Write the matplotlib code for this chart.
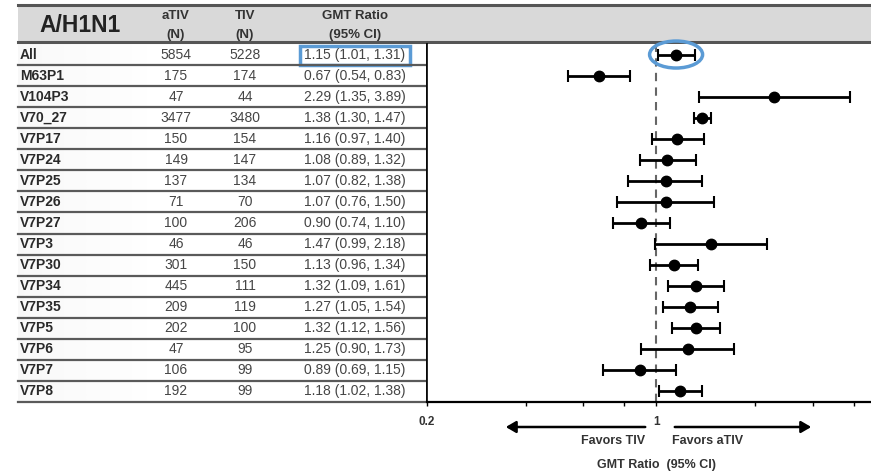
import numpy as np
import matplotlib
matplotlib.use('Agg')
import matplotlib.pyplot as plt
from matplotlib.patches import Rectangle, Ellipse
from matplotlib.ticker import NullLocator
from matplotlib.transforms import ScaledTranslation

plt.rcParams['font.family'] = ['Liberation Sans', 'DejaVu Sans']

# data
groups = ['All', 'M63P1', 'V104P3', 'V70_27', 'V7P17', 'V7P24', 'V7P25', 'V7P26', 'V7P27',
          'V7P3', 'V7P30', 'V7P34', 'V7P35', 'V7P5', 'V7P6', 'V7P7', 'V7P8']
ativ_n = [5854, 175, 47, 3477, 150, 149, 137, 71, 100, 46, 301, 445, 209, 202, 47, 106, 192]
tiv_n = [5228, 174, 44, 3480, 154, 147, 134, 70, 206, 46, 150, 111, 119, 100, 95, 99, 99]
gmt = [1.15, 0.67, 2.29, 1.38, 1.16, 1.08, 1.07, 1.07, 0.90, 1.47, 1.13, 1.32, 1.27, 1.32, 1.25, 0.89, 1.18]
ci_lo = [1.01, 0.54, 1.35, 1.30, 0.97, 0.89, 0.82, 0.76, 0.74, 0.99, 0.96, 1.09, 1.05, 1.12, 0.90, 0.69, 1.02]
ci_hi = [1.31, 0.83, 3.89, 1.47, 1.40, 1.32, 1.38, 1.50, 1.10, 2.18, 1.34, 1.61, 1.54, 1.56, 1.73, 1.15, 1.38]
xticks = [0.2, 0.4, 0.6, 0.8, 1, 2, 3, 4]
xtick_labels = ['0.2', '', '', '', '1', '', '', '']

W, H = 871, 473
fig = plt.figure(figsize=(W / 100, H / 100), dpi=100)

def box(x0, y0, x1, y1):
    # pixel box (top-left origin) -> figure fraction
    return [x0 / W, 1 - y1 / H, (x1 - x0) / W, (y1 - y0) / H]

n = len(groups)
rows = np.arange(n) + 0.5
top, bottom = 44, 402

# header band
axh = fig.add_axes(box(18, 5, 871, 43))
axh.set_xlim(18, 871)
axh.set_ylim(43, 5)
axh.axis('off')
axh.add_patch(Rectangle((18, 5), 853, 38, facecolor='#d9d9d9', edgecolor='none'))
axh.plot([18, 871], [5.5, 5.5], color='#555555', lw=2.2, clip_on=False)
axh.plot([18, 871], [42.5, 42.5], color='#555555', lw=2.2, clip_on=False)
axh.text(80, 25, 'A/H1N1', fontsize=16.5, fontweight='bold', ha='center', va='center', color='#222222')
for cx, l1, l2 in [(176, 'aTIV', '(N)'), (245, 'TIV', '(N)'), (355, 'GMT Ratio', '(95% CI)')]:
    axh.text(cx, 16, l1, fontsize=9.5, fontweight='bold', ha='center', va='center', color='#333333')
    axh.text(cx, 35, l2, fontsize=9.5, fontweight='bold', ha='center', va='center', color='#333333')

# table
axt = fig.add_axes(box(18, top, 427, bottom))
axt.set_xlim(18, 427)
axt.set_ylim(n, 0)
axt.axis('off')
grad = np.linspace(0, 1, 100).reshape(1, -1)
axt.imshow(grad, extent=(18, 150, n, 0), cmap='Greys_r', vmin=-6, vmax=1,
           aspect='auto', alpha=0.35, zorder=0)
for i, g in enumerate(groups):
    y = rows[i]
    axt.text(20, y, g, fontsize=10, fontweight='bold', ha='left', va='center', color='#2a2a2a')
    axt.text(176, y, str(ativ_n[i]), fontsize=10, ha='center', va='center', color='#454545')
    axt.text(245, y, str(tiv_n[i]), fontsize=10, ha='center', va='center', color='#454545')
    axt.text(355, y, f'{gmt[i]:.2f} ({ci_lo[i]:.2f}, {ci_hi[i]:.2f})', fontsize=10,
             ha='center', va='center', color='#454545')
for i in range(1, n + 1):
    axt.plot([18, 427], [i, i], color='#5a5a5a', lw=1.6, clip_on=False)
axt.plot([426.5, 426.5], [0, n], color='#333333', lw=1.4, clip_on=False)
axt.add_patch(Rectangle((300, 0.1), 110, 0.88, facecolor='none', edgecolor='#5b9bd5', lw=2.5))

# forest plot
ax = fig.add_axes(box(427, top, 871, bottom))
ax.set_xscale('log')
ax.set_xlim(0.2, 4.52)
ax.set_ylim(n, 0)
err = [np.array(gmt) - np.array(ci_lo), np.array(ci_hi) - np.array(gmt)]
ax.errorbar(gmt, rows, xerr=err, fmt='o', color='black', ms=7.5, elinewidth=2,
            capsize=4, capthick=1.5, zorder=3)
ax.axvline(1, color='#666666', lw=1.5, linestyle=(0, (4, 3)), zorder=1)
ax.spines['top'].set_visible(False)
ax.spines['right'].set_visible(False)
ax.spines['bottom'].set_linewidth(1.6)
ax.spines['left'].set_linewidth(1.2)
ax.set_yticks([])
ax.set_xticks(xticks)
ax.set_xticklabels(xtick_labels, fontsize=8.5, fontweight='bold', color='#333333')
ax.xaxis.set_minor_locator(NullLocator())
ax.tick_params(axis='x', length=3, width=1, pad=7)

# highlight ellipse around "All"
ell = Ellipse((0, 0), 0.53, 0.27, facecolor='none', edgecolor='#5b9bd5', lw=2.5,
              transform=fig.dpi_scale_trans + ScaledTranslation(gmt[0], rows[0], ax.transData))
fig.add_artist(ell)

# arrows and labels below axis
def fpx(x, y):
    return (x / W, 1 - y / H)

arrow_y = 427
fig.add_artist(matplotlib.patches.FancyArrowPatch(fpx(648, arrow_y), fpx(503, arrow_y),
               transform=fig.transFigure, arrowstyle='-|>,head_length=6,head_width=3.5',
               color='black', lw=1.8))
fig.add_artist(matplotlib.patches.FancyArrowPatch(fpx(672, arrow_y), fpx(814, arrow_y),
               transform=fig.transFigure, arrowstyle='-|>,head_length=6,head_width=3.5',
               color='black', lw=1.8))
fig.text(*fpx(645, 441), 'Favors TIV', fontsize=9, fontweight='bold', ha='right', va='center', color='#333333')
fig.text(*fpx(672, 441), 'Favors aTIV', fontsize=9, fontweight='bold', ha='left', va='center', color='#333333')
fig.text(*fpx(656, 465), 'GMT Ratio  (95% CI)', fontsize=9, fontweight='bold', ha='center', va='center', color='#333333')

fig.savefig('out.png', dpi=100)
